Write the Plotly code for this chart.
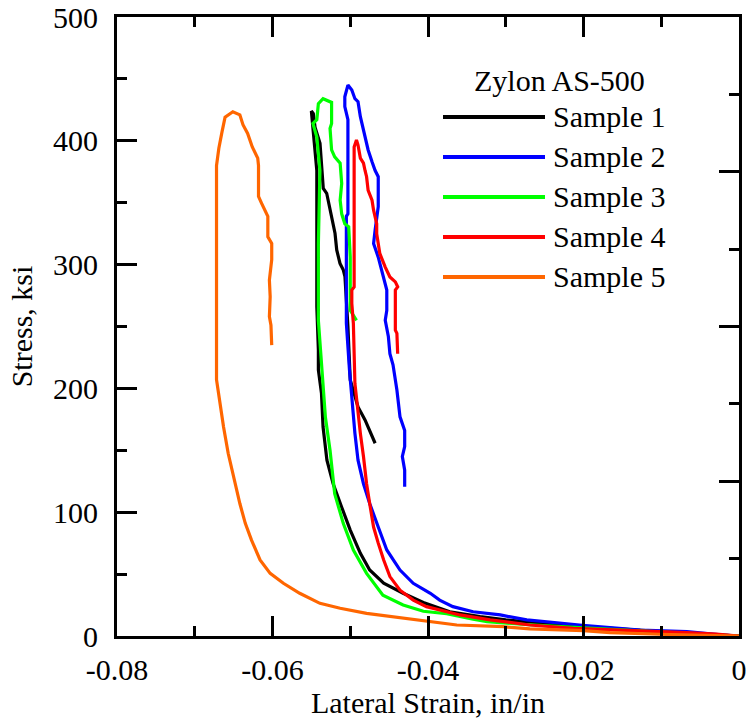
import plotly.graph_objects as go

# ---------------- data ----------------
sample_names = ["Sample 1", "Sample 2", "Sample 3", "Sample 4", "Sample 5"]
sample_colors = ["#000000", "#0000ff", "#00ff00", "#ff0000", "#ff6600"]
legend_title = "Zylon AS-500"

s1_strain = [0, -0.003, -0.01, -0.02, -0.025, -0.03, -0.0333, -0.0372, -0.0406, -0.0432, -0.0457,
             -0.0475, -0.0487, -0.0500, -0.0511, -0.0522, -0.0530, -0.0535, -0.0537, -0.0541, -0.0541,
             -0.0543, -0.0543, -0.0548, -0.0550, -0.05475, -0.05453, -0.05389, -0.05367, -0.05347,
             -0.05303, -0.05260, -0.05218, -0.05196, -0.05174, -0.05132, -0.05089, -0.05068, -0.0503,
             -0.0500, -0.0490, -0.0481, -0.0468]
s1_stress = [0, 1, 3.5, 7.5, 10, 13, 15.6, 19.6, 27, 34.5, 42.6,
             53.3, 66.8, 85.6, 104, 123, 142, 169, 196, 215, 231,
             266, 376, 407, 424, 422, 411, 398, 379, 361.6,
             357.6, 344, 333.4, 325.3, 311.8, 301, 295.6, 290.2, 250,
             206.8, 185, 174.5, 155.7]

s2_strain = [0, -0.002, -0.0067, -0.0127, -0.0205, -0.0273, -0.0307, -0.0342, -0.0368, -0.0385,
             -0.0397, -0.0419, -0.0436, -0.0453, -0.0464, -0.0475, -0.0483, -0.0490, -0.0494, -0.0498,
             -0.0501, -0.0505, -0.0505, -0.0503, -0.0503, -0.0507, -0.0507, -0.0503, -0.0498, -0.0494,
             -0.0490, -0.0487, -0.0483, -0.0481, -0.0477, -0.0472, -0.0468, -0.0464, -0.0464, -0.0468,
             -0.0470, -0.0464, -0.0460, -0.0453, -0.0453, -0.0455, -0.0451, -0.0449, -0.0445, -0.0440,
             -0.0436, -0.0430, -0.0430, -0.0433, -0.0430, -0.0430]
s2_stress = [0, 0.8, 3.5, 4.8, 8.9, 13, 17, 19.6, 23.7, 29,
             34.5, 42.6, 53.3, 69.5, 88, 107, 123, 142, 163.7, 190.6,
             215, 252.6, 339, 341, 417, 427.6, 435.6, 445, 441, 434,
             431.6, 419.5, 408.7, 400.6, 392.6, 383, 376, 371, 346.8, 328,
             317, 306, 295.6, 279.5, 263, 255, 242, 228, 219, 198.7,
             177, 166, 153, 145, 134, 120.6]

s3_strain = [0, -0.005, -0.01, -0.02, -0.028, -0.0324, -0.0342, -0.0376, -0.0406, -0.0432, -0.0458,
             -0.0479, -0.0496, -0.0509, -0.0520, -0.0526, -0.0532, -0.0537, -0.0541, -0.0541, -0.0539,
             -0.0543, -0.0548, -0.0543, -0.0541, -0.0535, -0.0524, -0.0524, -0.0526, -0.0524, -0.0520,
             -0.0513, -0.0511, -0.0513, -0.0511, -0.0507, -0.0502, -0.0500, -0.0500, -0.0500, -0.0492]
s3_stress = [0, 1.5, 3, 6.5, 9.5, 11.6, 13.5, 18, 20, 25, 33,
             50.6, 69.5, 91, 115, 150, 177, 220, 255, 317, 376,
             403, 414, 417, 430, 434, 431, 414, 410, 392.6, 387,
             382, 365.6, 352, 341, 333, 330.6, 306, 282, 263, 255]

s4_strain = [0, -0.0029, -0.0067, -0.0149, -0.0213, -0.0269, -0.0320, -0.0359, -0.0376, -0.0402,
             -0.0419, -0.0436, -0.0449, -0.0457, -0.0464, -0.0470, -0.0475, -0.0479, -0.0483, -0.0487,
             -0.0494, -0.0495, -0.0496, -0.0498, -0.0498, -0.0495, -0.0495, -0.0492, -0.0490, -0.0487,
             -0.0483, -0.0481, -0.0479, -0.0477, -0.0472, -0.0470, -0.0466, -0.0466, -0.0462, -0.0455,
             -0.0449, -0.0442, -0.0439, -0.0442, -0.0442, -0.0440, -0.0439]
s4_stress = [0, 1.6, 2.7, 4.8, 6.2, 8.9, 13, 17, 19.6, 23.7,
             29, 37, 48, 61.4, 75, 88, 107, 123, 145, 163.7,
             204, 231, 252.6, 268.7, 279.5, 282, 395, 400.6, 396.6, 386,
             382, 376, 371, 360, 352, 344, 333, 325, 309, 298,
             290, 286, 282, 279.5, 247, 244.5, 228]

s5_strain = [0, -0.0029, -0.0102, -0.0166, -0.0200, -0.0269, -0.0303, -0.0363, -0.0397, -0.0436,
             -0.0479, -0.0513, -0.0539, -0.0565, -0.0586, -0.0603, -0.0616, -0.0627, -0.0635, -0.0642,
             -0.0650, -0.0657, -0.0663, -0.0668, -0.0672, -0.0672, -0.0669, -0.0665, -0.0661, -0.0651,
             -0.0642, -0.0638, -0.0632, -0.0626, -0.0619, -0.0618, -0.0618, -0.0614, -0.0606, -0.0606,
             -0.0601, -0.0601, -0.0604, -0.0603, -0.0604, -0.0602, -0.0602, -0.0601]
s5_stress = [0, 0.3, 1.4, 2.7, 4.3, 5.7, 7.5, 8.9, 11.6, 14.3,
             18.3, 22.4, 26.4, 34.5, 42.6, 50.6, 61.4, 77.5, 91, 107,
             128.7, 147.6, 169, 188, 207, 380, 394, 407, 419, 423.5,
             421, 413, 406, 395, 386, 380, 355, 349.5, 339, 322.5,
             317, 304, 287.6, 274, 258, 251, 242, 235]

x_tickvals = [-0.08, -0.06, -0.04, -0.02, 0]
x_ticktext = ["-0.08", "-0.06", "-0.04", "-0.02", "0"]
y_tickvals = [0, 100, 200, 300, 400, 500]
y_ticktext = ["0", "100", "200", "300", "400", "500"]

strains = [s1_strain, s2_strain, s3_strain, s4_strain, s5_strain]
stresses = [s1_stress, s2_stress, s3_stress, s4_stress, s5_stress]

# ---------------- figure ----------------
W, H = 749, 719
ML, MR, MT, MB = 117, 10, 17, 83
PW, PH = W - ML - MR, H - MT - MB
FONT = "Liberation Serif"

fig = go.Figure()
for name, color, xs, ys in zip(sample_names, sample_colors, strains, stresses):
    fig.add_trace(go.Scatter(x=xs, y=ys, mode="lines", name=name,
                             line=dict(color=color, width=3.2), showlegend=False))

# invisible trace to carry the right-hand tick axis
fig.add_trace(go.Scatter(x=[None], y=[None], yaxis="y2", showlegend=False, hoverinfo="skip"))

axis_common = dict(showgrid=False, zeroline=False, linecolor="black", linewidth=3,
                   ticks="inside", tickcolor="black", tickwidth=3, ticklen=20,
                   automargin=False,
                   tickfont=dict(family=FONT, size=30, color="black"))

fig.update_layout(
    width=W, height=H,
    margin=dict(l=ML, r=MR, t=MT, b=MB),
    paper_bgcolor="white", plot_bgcolor="white",
    font=dict(family=FONT, size=30, color="black"),
    xaxis=dict(range=[-0.08, 0], tickvals=x_tickvals, ticktext=x_ticktext,
               showline=True, mirror="ticks",
               minor=dict(dtick=0.01, ticks="inside", ticklen=10, tickwidth=3, tickcolor="black"),
               ticklabelstandoff=5,
               title=dict(text="Lateral Strain, in/in", font=dict(family=FONT, size=30), standoff=4),
               **axis_common),
    yaxis=dict(range=[0, 500], tickvals=y_tickvals, ticktext=y_ticktext,
               showline=True, mirror=True,
               minor=dict(dtick=50, ticks="inside", ticklen=10, tickwidth=3, tickcolor="black"),
               ticklabelstandoff=10,
               title=dict(text="Stress, ksi", font=dict(family=FONT, size=30), standoff=12),
               **axis_common),
    yaxis2=dict(overlaying="y", side="right", anchor="x", range=[0, 8], dtick=2,
                showticklabels=False, showgrid=False, zeroline=False, showline=False,
                automargin=False,
                ticks="inside", ticklen=20, tickwidth=3, tickcolor="black",
                minor=dict(dtick=1, ticks="inside", ticklen=10, tickwidth=3, tickcolor="black")),
)

# ---------------- manual legend ----------------
def px_to_paper_x(px):
    return (px - ML) / PW

def px_to_paper_y(py):
    return (H - MB - py) / PH

leg_line_x0, leg_line_x1, leg_text_x = 443, 545, 551
leg_title_cx, leg_title_cy = 559, 81
leg_row0, leg_row_step = 117, 40

fig.add_annotation(x=px_to_paper_x(leg_title_cx), y=px_to_paper_y(leg_title_cy),
                   xref="paper", yref="paper", text=legend_title, showarrow=False,
                   xanchor="center", yanchor="middle", font=dict(family=FONT, size=30))
for i, (name, color) in enumerate(zip(sample_names, sample_colors)):
    yy = px_to_paper_y(leg_row0 + i * leg_row_step)
    fig.add_shape(type="line", xref="paper", yref="paper",
                  x0=px_to_paper_x(leg_line_x0), x1=px_to_paper_x(leg_line_x1), y0=yy, y1=yy,
                  line=dict(color=color, width=4))
    fig.add_annotation(x=px_to_paper_x(leg_text_x), y=yy, xref="paper", yref="paper",
                       text=name, showarrow=False, xanchor="left", yanchor="middle",
                       font=dict(family=FONT, size=30))

fig.write_html("out.html")
